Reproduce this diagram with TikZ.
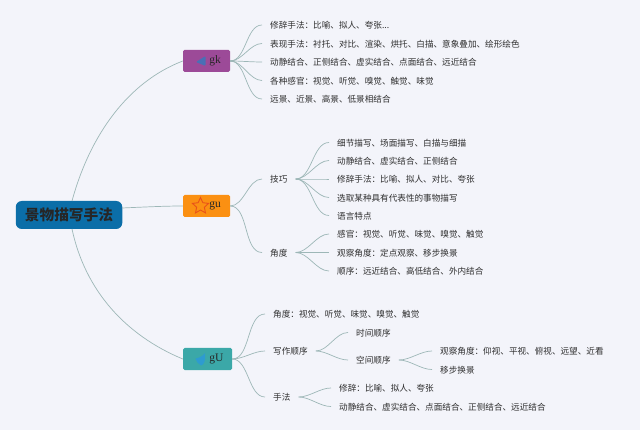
\documentclass[tikz,border=0pt]{standalone}
\usepackage{fontspec}
\setmainfont{Liberation Serif}
\newfontfamily\cjk{Noto Sans CJK SC}
\usetikzlibrary{shapes.geometric}
\definecolor{paper}{HTML}{F3F4FA}
\definecolor{rootblue}{HTML}{0B6EA8}
\definecolor{gkpurple}{HTML}{9C4A98}
\definecolor{guorange}{HTML}{FB9012}
\definecolor{gUteal}{HTML}{3BA8A8}
\definecolor{linkgrey}{HTML}{9DB7B7}
\definecolor{inkgrey}{HTML}{2E2E2E}
\definecolor{flagblue}{HTML}{4A6FB5}
\definecolor{starred}{HTML}{E8531A}
\definecolor{dropblue}{HTML}{2E9BD0}
\tikzset{
	rootbox/.style={fill=rootblue,rounded corners=6pt,minimum width=106.5pt,minimum height=28pt,inner sep=0pt,font=\cjk\fontsize{14.7}{16}\selectfont\bfseries,text=black!85},
	topic/.style={rounded corners=1.5pt,minimum height=22pt,inner sep=0pt,font=\fontsize{11.5}{13}\selectfont,text=black!85},
	leaf/.style={anchor=west,inner xsep=8pt,inner ysep=0pt,text height=9pt,text depth=1.5pt,font=\cjk\fontsize{8.6}{10}\selectfont,text=inkgrey},
	link/.style={draw=linkgrey,line width=0.7pt,looseness=0.85},
	icon/.style={inner sep=0pt,minimum size=1pt}
}
\begin{document}
\begin{tikzpicture}[x=1pt,y=-1pt]

	\fill[color=paper] (0,0) rectangle (640,430);

	% main boxes
	\node[rootbox] (root) at (69,215) {景物描写手法};
	\node[topic,fill=gkpurple,minimum width=47pt] (gk) at (206.5,61) {\hspace*{17pt}gk};
	\node[topic,fill=guorange,minimum width=47pt] (gu) at (206.5,206) {\hspace*{17pt}gu};
	\node[topic,fill=gUteal,minimum width=49pt] (gU) at (207.5,359) {\hspace*{18pt}gU};

	% where the three links leave the root box
	\coordinate (roottop) at (72,201);
	\coordinate (rootmid) at (122,208);
	\coordinate (rootbot) at (72,229);

	% icons
	\fill[color=flagblue,rounded corners=1pt] (196,62) -- (205.5,56) -- (205.5,66) -- cycle;
	\node[icon,star,star points=5,star point ratio=2.1,minimum size=17pt,draw=starred,line width=0.9pt] (gustar) at (200.5,206) {};
	\fill[color=dropblue] (205,353) .. controls (206,360) and (204,365) .. (201,365.5) .. controls (198,364) and (196,361) .. (195.5,358.5) .. controls (199,358) and (203,356) .. (205,353) -- cycle;

	% first group
	\node[leaf] (gka) at (262,25) {修辞手法：比喻、拟人、夸张...};
	\node[leaf] (gkb) at (262,43.5) {表现手法：衬托、对比、渲染、烘托、白描、意象叠加、绘形绘色};
	\node[leaf] (gkc) at (262,62) {动静结合、正侧结合、虚实结合、点面结合、远近结合};
	\node[leaf] (gkd) at (262,80.5) {各种感官：视觉、听觉、嗅觉、触觉、味觉};
	\node[leaf] (gke) at (262,99) {远景、近景、高景、低景相结合};

	% second group
	\node[leaf] (jq) at (262,179) {技巧};
	\node[leaf] (jd) at (262,252.5) {角度};
	\node[leaf] (jqa) at (329,142.5) {细节描写、场面描写、白描与细描};
	\node[leaf] (jqb) at (329,160.5) {动静结合、虚实结合、正侧结合};
	\node[leaf] (jqc) at (329,179) {修辞手法：比喻、拟人、对比、夸张};
	\node[leaf] (jqd) at (329,197.5) {选取某种具有代表性的事物描写};
	\node[leaf] (jqe) at (329,215.5) {语言特点};
	\node[leaf] (jda) at (329,234) {感官：视觉、听觉、味觉、嗅觉、触觉};
	\node[leaf] (jdb) at (329,252.5) {观察角度：定点观察、移步换景};
	\node[leaf] (jdc) at (329,271) {顺序：远近结合、高低结合、外内结合};

	% third group
	\node[leaf] (ga) at (265,314) {角度：视觉、听觉、味觉、嗅觉、触觉};
	\node[leaf] (gb) at (265,351) {写作顺序};
	\node[leaf] (gc) at (265,397) {手法};
	\node[leaf] (gba) at (348,332.5) {时间顺序};
	\node[leaf] (gbb) at (348,360) {空间顺序};
	\node[leaf] (gbc) at (432,351) {观察角度：仰视、平视、俯视、远望、近看};
	\node[leaf] (gbd) at (432,369.5) {移步换景};
	\node[leaf] (gca) at (331,388) {修辞：比喻、拟人、夸张};
	\node[leaf] (gcb) at (331,406.5) {动静结合、虚实结合、点面结合、正侧结合、远近结合};

	% connectors
	\draw[link] (roottop) .. controls (90,135) and (128,82) .. (gk.west);
	\draw[link] (rootmid) .. controls (145,207) and (165,206) .. (gu.west);
	\draw[link] (rootbot) .. controls (85,290) and (125,335) .. (gU.west);

	\draw[link] (gk.east) to[out=0,in=180] (gka.west);
	\draw[link] (gk.east) to[out=0,in=180] (gkb.west);
	\draw[link] (gk.east) to[out=0,in=180] (gkc.west);
	\draw[link] (gk.east) to[out=0,in=180] (gkd.west);
	\draw[link] (gk.east) to[out=0,in=180] (gke.west);

	\draw[link] (gu.east) to[out=0,in=180] (jq.west);
	\draw[link] (gu.east) to[out=0,in=180] (jd.west);

	\draw[link] (jq.east) to[out=0,in=180] (jqa.west);
	\draw[link] (jq.east) to[out=0,in=180] (jqb.west);
	\draw[link] (jq.east) to[out=0,in=180] (jqc.west);
	\draw[link] (jq.east) to[out=0,in=180] (jqd.west);
	\draw[link] (jq.east) to[out=0,in=180] (jqe.west);

	\draw[link] (jd.east) to[out=0,in=180] (jda.west);
	\draw[link] (jd.east) to[out=0,in=180] (jdb.west);
	\draw[link] (jd.east) to[out=0,in=180] (jdc.west);

	\draw[link] (gU.east) to[out=0,in=180] (ga.west);
	\draw[link] (gU.east) to[out=0,in=180] (gb.west);
	\draw[link] (gU.east) to[out=0,in=180] (gc.west);

	\draw[link] (gb.east) to[out=0,in=180] (gba.west);
	\draw[link] (gb.east) to[out=0,in=180] (gbb.west);
	\draw[link] (gbb.east) to[out=0,in=180] (gbc.west);
	\draw[link] (gbb.east) to[out=0,in=180] (gbd.west);
	\draw[link] (gc.east) to[out=0,in=180] (gca.west);
	\draw[link] (gc.east) to[out=0,in=180] (gcb.west);

\end{tikzpicture}
\end{document}
